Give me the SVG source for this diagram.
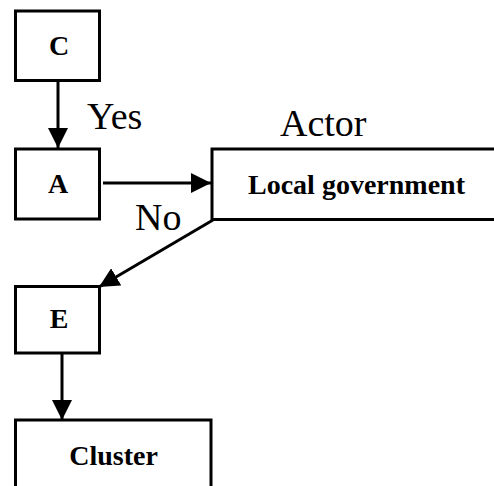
<svg xmlns="http://www.w3.org/2000/svg" width="494" height="486" viewBox="0 0 494 486">
  <defs>
    <marker id="head" markerUnits="userSpaceOnUse" markerWidth="20" markerHeight="20" viewBox="0 0 18 18" refX="18" refY="9" orient="auto">
      <path d="M0,0 L18,9 L0,18 Z" fill="#000"/>
    </marker>
    <style>
      .box { fill: #fff; stroke: #000; stroke-width: 3; }
      .edge { fill: none; stroke: #000; stroke-width: 3; marker-end: url(#head); }
      .lbl { font-weight: bold; font-size: 28px; fill: #000; text-anchor: middle; }
      .note { font-size: 38px; fill: #000; }
    </style>
  </defs>
  <rect width="494" height="486" fill="#fff"/>

  <g id="connectors">
    <path class="edge" d="M58,80 L58,148"/>
    <path class="edge" d="M103,183 L211,183"/>
    <path class="edge" d="M213,220 L99,287"/>
    <path class="edge" d="M62,353 L62,420"/>
  </g>

  <g font-family="Liberation Serif, Times New Roman, serif">
    <g id="node-c">
      <rect class="box" x="15.5" y="11" width="84" height="69.5"/>
      <text class="lbl" x="59" y="55">C</text>
    </g>

    <g id="node-a">
      <rect class="box" x="15.5" y="149" width="84" height="70"/>
      <text class="lbl" x="58" y="193">A</text>
    </g>

    <g id="node-local-government">
      <path class="box" d="M500,149 L212,149 L212,219.5 L500,219.5"/>
      <text class="lbl" x="356.5" y="194">Local government</text>
    </g>

    <g id="node-e">
      <rect class="box" x="15.5" y="286.5" width="84" height="66.5"/>
      <text class="lbl" x="59" y="328">E</text>
    </g>

    <g id="node-cluster">
      <path class="box" d="M15.5,490 L15.5,420 L211,420 L211,490"/>
      <text class="lbl" x="113.5" y="465">Cluster</text>
    </g>

    <g id="labels">
      <text class="note" x="87" y="129">Yes</text>
      <text class="note" x="280" y="136">Actor</text>
      <text class="note" x="135" y="230">No</text>
    </g>
  </g>
</svg>
